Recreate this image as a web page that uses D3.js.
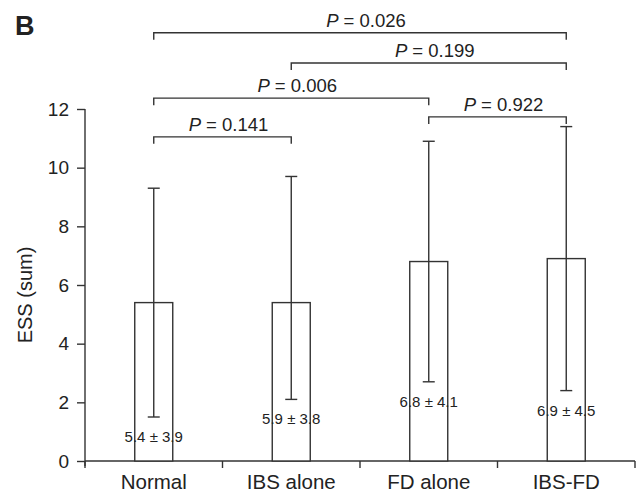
<!DOCTYPE html>
<html>
<head>
  <style>
    body { margin: 0; background: #fff; }
    text { font-family: "Liberation Sans", Arial, sans-serif; fill: #222; }
    .axis path, .axis line { stroke: #333; stroke-width: 1.4; }
    .axis text { font-size: 19px; fill: #222; }
  </style>
</head>
<body>
  <svg id="chart" width="638" height="492"></svg>

  <script src="https://d3js.org/d3.v7.min.js"></script>
  <script>
    // data
    const categories = ['Normal', 'IBS alone', 'FD alone', 'IBS-FD'];
    const barHeights = [5.4, 5.4, 6.8, 6.9];
    const errLow = [1.5, 2.1, 2.7, 2.4];
    const errHigh = [9.3, 9.7, 10.9, 11.4];
    const valueLabels = ['5.4 ± 3.9', '5.9 ± 3.8', '6.8 ± 4.1', '6.9 ± 4.5'];
    const yTicks = [0, 2, 4, 6, 8, 10, 12];

    const pairFrom = ['Normal', 'Normal', 'FD alone', 'IBS alone', 'Normal'];
    const pairTo = ['IBS alone', 'FD alone', 'IBS-FD', 'IBS-FD', 'IBS-FD'];
    const pValues = ['0.141', '0.006', '0.922', '0.199', '0.026'];

    const svg = d3.select('#chart');
    const plotLeft = 85, plotRight = 635, plotTop = 109, plotBottom = 461;

    const x = d3.scaleBand().domain(categories).range([plotLeft, plotRight]).padding(0);
    const y = d3.scaleLinear().domain([0, 12]).range([plotBottom, plotTop]);
    const barW = 38;
    const capW = 12;
    const ink = '#333';

    // bracket heights in y units (above the plot)
    const bracketY = [11.05, 12.37, 11.73, 13.57, 14.6];

    // axes
    svg.append('g')
      .attr('class', 'axis')
      .attr('transform', `translate(${plotLeft},0)`)
      .call(d3.axisLeft(y).tickValues(yTicks).tickSize(8).tickSizeOuter(0).tickPadding(8))
      .call(g => g.select('.domain').attr('d', `M0,${y(12)}V${plotBottom + 5}`));

    const xAxis = svg.append('g')
      .attr('transform', `translate(0,${plotBottom})`);
    xAxis.append('line')
      .attr('x1', plotLeft).attr('x2', plotRight)
      .attr('stroke', ink).attr('stroke-width', 1.4);
    const bounds = categories.map(c => x(c)).concat([plotRight]);
    xAxis.selectAll('.bt').data(bounds).enter().append('line')
      .attr('x1', d => d).attr('x2', d => d)
      .attr('y1', 0).attr('y2', 7)
      .attr('stroke', ink).attr('stroke-width', 1.4);
    xAxis.selectAll('.cl').data(categories).enter().append('text')
      .attr('x', d => x(d) + x.bandwidth() / 2)
      .attr('y', 28)
      .attr('text-anchor', 'middle')
      .style('font-size', '20.5px')
      .text(d => d);

    // bars
    svg.selectAll('.bar').data(categories).enter().append('rect')
      .attr('x', d => x(d) + x.bandwidth() / 2 - barW / 2)
      .attr('y', (d, i) => y(barHeights[i]))
      .attr('width', barW)
      .attr('height', (d, i) => plotBottom - y(barHeights[i]))
      .attr('fill', '#fff')
      .attr('stroke', ink).attr('stroke-width', 1.4);

    // error bars
    categories.forEach((c, i) => {
      const cx = x(c) + x.bandwidth() / 2;
      const g = svg.append('g').attr('stroke', ink).attr('stroke-width', 1.4);
      g.append('line').attr('x1', cx).attr('x2', cx).attr('y1', y(errLow[i])).attr('y2', y(errHigh[i]));
      g.append('line').attr('x1', cx - capW / 2).attr('x2', cx + capW / 2).attr('y1', y(errLow[i])).attr('y2', y(errLow[i]));
      g.append('line').attr('x1', cx - capW / 2).attr('x2', cx + capW / 2).attr('y1', y(errHigh[i])).attr('y2', y(errHigh[i]));
      svg.append('text')
        .attr('x', cx)
        .attr('y', y(errLow[i]) + 25)
        .attr('text-anchor', 'middle')
        .style('font-size', '15px')
        .text(valueLabels[i]);
    });

    // significance brackets
    pValues.forEach((p, i) => {
      const x1 = x(pairFrom[i]) + x.bandwidth() / 2;
      const x2 = x(pairTo[i]) + x.bandwidth() / 2;
      const by = y(bracketY[i]);
      svg.append('path')
        .attr('d', `M${x1},${by + 7}V${by}H${x2}V${by + 7}`)
        .attr('fill', 'none')
        .attr('stroke', ink).attr('stroke-width', 1.4);
      const t = svg.append('text')
        .attr('x', (x1 + x2) / 2 + 6)
        .attr('y', by - 6)
        .attr('text-anchor', 'middle')
        .style('font-size', '18.5px');
      t.append('tspan').style('font-style', 'italic').text('P');
      t.append('tspan').text(' = ' + p);
    });

    // y axis title
    svg.append('text')
      .attr('transform', `translate(32,295) rotate(-90)`)
      .attr('text-anchor', 'middle')
      .style('font-size', '20px')
      .text('ESS (sum)');

    // panel letter
    svg.append('text')
      .attr('x', 15).attr('y', 35)
      .style('font-size', '27px')
      .style('font-weight', 'bold')
      .text('B');
  </script>
</body>
</html>
